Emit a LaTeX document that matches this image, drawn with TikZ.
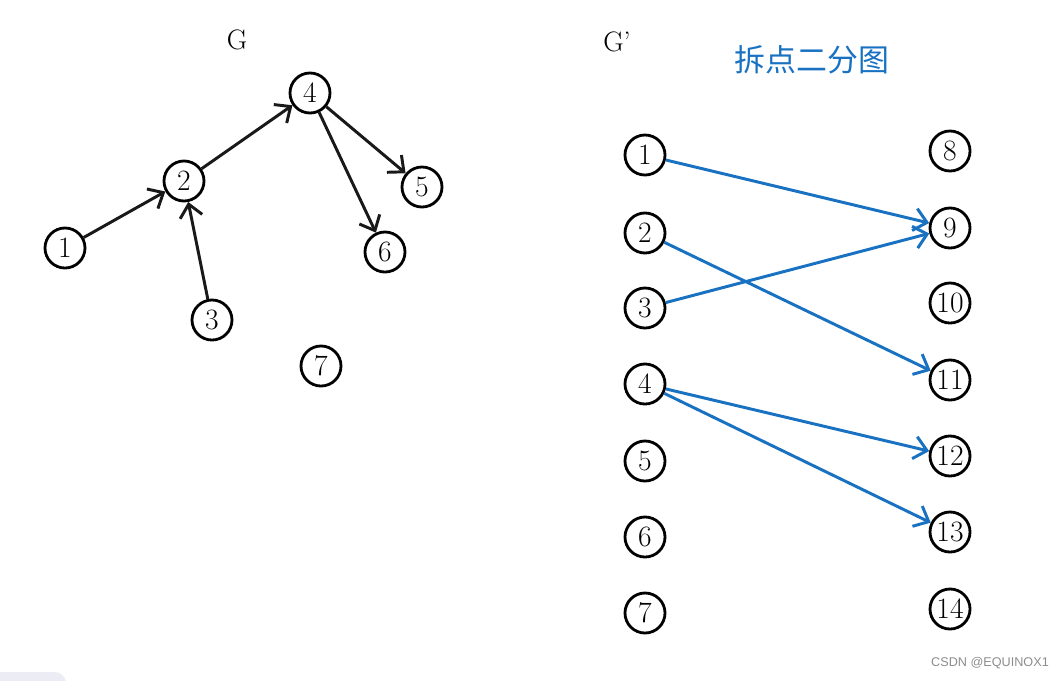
\documentclass[tikz,border=0pt]{standalone}
\usepackage{fontspec}
\usetikzlibrary{arrows.meta}
\newfontfamily\cjk{Noto Sans CJK SC}
\newfontfamily\wmfont{Liberation Sans}
\definecolor{edgeblue}{RGB}{25,113,194}
\definecolor{tabgray}{RGB}{236,236,244}

\begin{document}
\begin{tikzpicture}[
    x=0.025cm, y=-0.025cm,
    vertex/.style={circle, draw, line width=2pt, minimum size=1cm, inner sep=0pt,
                   font=\fontsize{21}{23}\selectfont},
    arc/.style={-{Straight Barb[length=9pt, width=16pt]}, line width=2.1pt},
    glabel/.style={font=\fontsize{20}{22}\selectfont}
]
    \useasboundingbox (0,0) rectangle (1063,680);
    \fill[tabgray, rounded corners=8pt] (-20,672) rectangle (66,700);

    % --- Graph G ---
    \node[glabel] (gname) at (237,40) {G};
    \node[vertex] (a1) at (65,248) {1};
    \node[vertex] (a2) at (184,181) {2};
    \node[vertex] (a3) at (212,320) {3};
    \node[vertex] (a4) at (310,93) {4};
    \node[vertex] (a5) at (422,187) {5};
    \node[vertex] (a6) at (385,252) {6};
    \node[vertex] (a7) at (321,366) {7};

    \draw[arc, black!90] (a1) -- (a2);
    \draw[arc, black!90] (a3) -- (a2);
    \draw[arc, black!90] (a2) -- (a4);
    \draw[arc, black!90] (a4) -- (a5);
    \draw[arc, black!90] (a4) -- (a6);

    % --- Split bipartite graph G' ---
    \node[glabel] (gsplit) at (617,42) {G'};
    \node[font=\cjk\fontsize{22}{24}\selectfont, text=edgeblue] (title) at (812,60) {拆点二分图};
    \foreach \i/\y in {1/155, 2/233, 3/308, 4/384, 5/461, 6/537, 7/613} {
        \node[vertex] (l\i) at (645,\y) {\i};
    }
    \foreach \i/\y in {8/151, 9/228, 10/303, 11/380, 12/456, 13/532, 14/609} {
        \node[vertex] (r\i) at (950,\y) {\i};
    }

    \draw[arc, edgeblue] (l1) -- (r9);
    \draw[arc, edgeblue] (l3) -- (r9);
    \draw[arc, edgeblue] (l2) -- (r11);
    \draw[arc, edgeblue] (l4) -- (r12);
    \draw[arc, edgeblue] (l4) -- (r13);

    \node[font=\wmfont\fontsize{9}{11}\selectfont, text=black!45] (mark) at (990,663) {CSDN @EQUINOX1};
\end{tikzpicture}
\end{document}
